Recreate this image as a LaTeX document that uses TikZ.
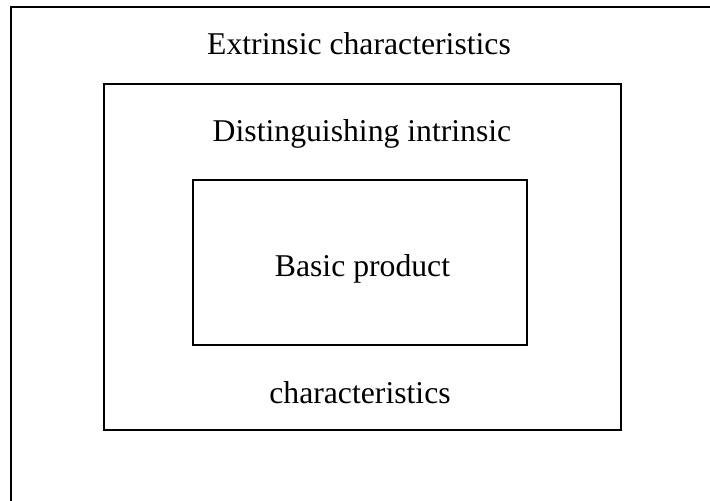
\documentclass[tikz,border=0pt]{standalone}
\usepackage{fontspec}
\setmainfont{Liberation Serif}
\begin{document}
\begin{tikzpicture}[x=0.5pt,y=-0.5pt,
  frame/.style={draw=black,line width=1pt},
  label/.style={anchor=base,inner sep=0pt,font=\fontsize{15.85}{19}\selectfont}]
\useasboundingbox (0,0) rectangle (710,501);
% outer region, open to the right and bottom
\coordinate (oL) at (11,501);
\coordinate (oC) at (11,7);
\coordinate (oR) at (710,7);
\draw[frame] (oL) -- (oC) -- (oR);
% middle and inner boxes (sizes in pt: half the pixel sizes)
\node[frame,inner sep=0pt,minimum width=258.5pt,minimum height=173pt,anchor=north west] (mid) at (103,83) {};
\node[frame,inner sep=0pt,minimum width=167pt,minimum height=82.5pt,anchor=north west] (core) at (192,179) {};
% texts
\node[label] (ext) at (359,54.3) {Extrinsic characteristics};
\node[label] (dist) at (362,141.3) {Distinguishing intrinsic};
\node[label] (basic) at (362.5,276.3) {Basic product};
\node[label] (chars) at (360,403) {characteristics};
\end{tikzpicture}
\end{document}
